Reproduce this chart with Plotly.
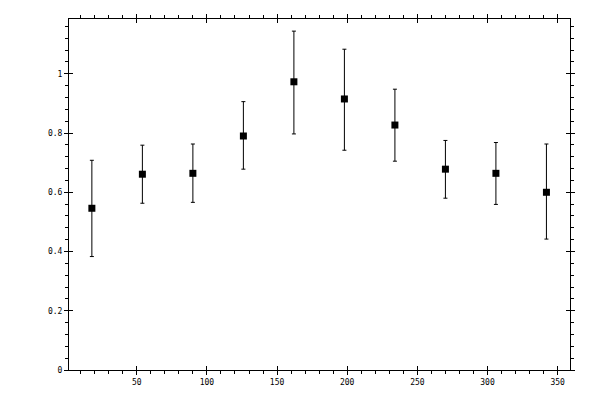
import plotly.graph_objects as go

x_vals = [18, 54, 90, 126, 162, 198, 234, 270, 306, 342]
y_vals = [0.546, 0.661, 0.664, 0.790, 0.973, 0.915, 0.827, 0.678, 0.664, 0.600]
err_plus = [0.162, 0.098, 0.099, 0.116, 0.171, 0.168, 0.121, 0.097, 0.104, 0.163]
err_minus = [0.163, 0.098, 0.098, 0.112, 0.176, 0.173, 0.122, 0.098, 0.105, 0.158]

x_ticks = [50, 100, 150, 200, 250, 300, 350]
y_ticks = [0, 0.2, 0.4, 0.6, 0.8, 1]
x_range = [1.7, 358.8]
y_range = [0, 1.185]

font = dict(family="DejaVu Sans Mono", size=8, color="black")

fig = go.Figure()
fig.add_trace(go.Scatter(
    x=x_vals, y=y_vals, mode="markers",
    marker=dict(symbol="square", size=7, color="black"),
    error_y=dict(type="data", symmetric=False, array=err_plus, arrayminus=err_minus,
                 color="black", thickness=1, width=2),
    showlegend=False,
))
fig.add_trace(go.Scatter(x=[], y=[], xaxis="x2", yaxis="y2", showlegend=False))

common = dict(showgrid=False, zeroline=False, showline=True, linecolor="black",
              linewidth=1, tickcolor="black", tickwidth=1, automargin=False)

fig.update_layout(
    width=600, height=400,
    margin=dict(l=61, r=38, t=11, b=38),
    paper_bgcolor="white", plot_bgcolor="white",
    font=font,
    xaxis=dict(range=x_range, tickmode="array", tickvals=x_ticks,
               ticktext=[str(v) for v in x_ticks], ticks="outside", ticklen=4,
               mirror="allticks",
               minor=dict(dtick=10, tick0=0, ticks="outside", ticklen=3,
                          tickcolor="black", tickwidth=1),
               **common),
    yaxis=dict(range=y_range, tickmode="array", tickvals=y_ticks,
               ticktext=["0", "0.2", "0.4", "0.6", "0.8", "1"], ticks="outside", ticklen=4,
               mirror="allticks",
               minor=dict(dtick=0.04, tick0=0, ticks="outside", ticklen=3,
                          tickcolor="black", tickwidth=1),
               **common),
    xaxis2=dict(range=x_range, overlaying="x", anchor="y2", side="bottom",
                tickmode="array", tickvals=x_ticks, ticks="inside", ticklen=4,
                showticklabels=False, mirror="allticks", **common),
    yaxis2=dict(range=y_range, overlaying="y", anchor="x2", side="left",
                tickmode="array", tickvals=y_ticks, ticks="inside", ticklen=4,
                showticklabels=False, mirror="allticks", **common),
)

fig.write_html("out.html")
